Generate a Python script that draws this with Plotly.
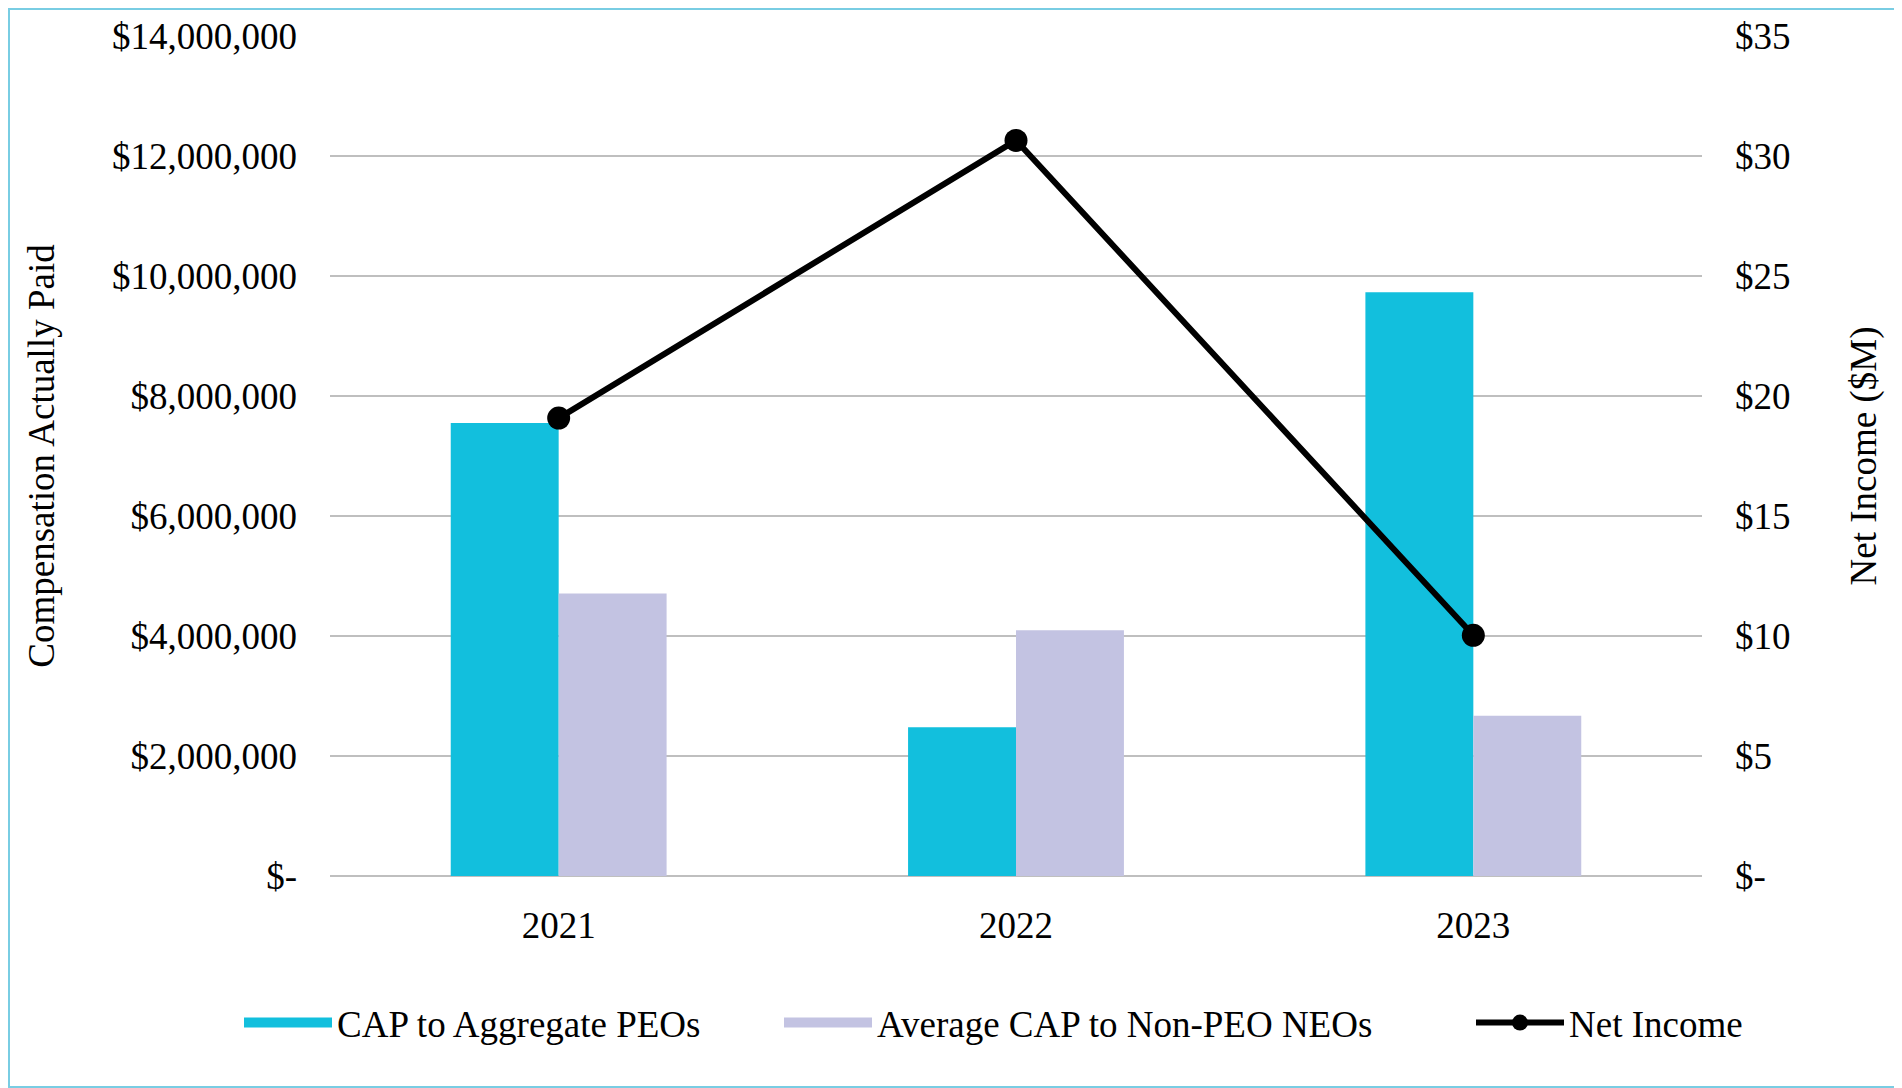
import plotly.graph_objects as go

years = ["2021", "2022", "2023"]
cap_peo = [7550000, 2480000, 9730000]
cap_neo = [4710000, 4095000, 2670000]
net_income = [19.08, 30.65, 10.03]

left_tickvals = [0, 2000000, 4000000, 6000000, 8000000, 10000000, 12000000, 14000000]
left_ticktext = ["$-", "$2,000,000", "$4,000,000", "$6,000,000", "$8,000,000",
                 "$10,000,000", "$12,000,000", "$14,000,000"]
right_tickvals = [0, 5, 10, 15, 20, 25, 30, 35]
right_ticktext = ["$-", "$5", "$10", "$15", "$20", "$25", "$30", "$35"]

# page has an 8px body margin, so the figure is sized to fit the window
W, H = 1894, 1080
L, R, T, B = 322, 200, 28, 212
PW, PH = W - L - R, H - T - B

FONT = "Liberation Serif"
CYAN = "#12BFDD"
LAV = "#C3C3E2"
GRID = "#BFBFBF"
FS = 37

fig = go.Figure()
fig.add_trace(go.Bar(x=years, y=cap_peo, name="CAP to Aggregate PEOs",
                     marker=dict(color=CYAN, line=dict(width=0)), showlegend=False))
fig.add_trace(go.Bar(x=years, y=cap_neo, name="Average CAP to Non-PEO NEOs",
                     marker=dict(color=LAV, line=dict(width=0)), showlegend=False))
fig.add_trace(go.Scatter(x=years, y=net_income, name="Net Income", yaxis="y2",
                         mode="lines+markers",
                         line=dict(color="#000000", width=6),
                         marker=dict(color="#000000", size=23),
                         legend="legend3"))
# legend swatches for the bar series (wide filled rectangles as in the reference)
fig.add_trace(go.Scatter(x=[None], y=[None], name="CAP to Aggregate PEOs",
                         mode="lines", line=dict(color=CYAN, width=17),
                         legend="legend", hoverinfo="skip"))
fig.add_trace(go.Scatter(x=[None], y=[None], name="Average CAP to Non-PEO NEOs",
                         mode="lines", line=dict(color=LAV, width=17),
                         legend="legend2", hoverinfo="skip"))

leg_y = (876 - 1023) / 840
leg_common = dict(orientation="h", xanchor="left", y=leg_y, yanchor="middle",
                  font=dict(size=FS), itemwidth=88, bgcolor="rgba(0,0,0,0)")

fig.update_layout(
    width=W, height=H,
    margin=dict(l=L, r=R, t=T, b=B, autoexpand=False),
    paper_bgcolor="white", plot_bgcolor="white",
    font=dict(family=FONT, size=FS, color="#000000"),
    barmode="group", bargap=0.528, bargroupgap=0,
    xaxis=dict(showgrid=False, showline=False, ticks="",
               tickfont=dict(size=FS), ticklabelstandoff=24),
    yaxis=dict(range=[0, 14000000], tickvals=left_tickvals, ticktext=left_ticktext,
               showgrid=True, gridcolor=GRID, gridwidth=2,
               zeroline=True, zerolinecolor=GRID, zerolinewidth=2,
               showline=False, ticks="", ticklabelstandoff=32,
               title=dict(text="Compensation Actually Paid", standoff=46,
                          font=dict(size=FS))),
    yaxis2=dict(range=[0, 35], tickvals=right_tickvals, ticktext=right_ticktext,
                overlaying="y", side="right", showgrid=False, zeroline=False,
                showline=False, ticks="", ticklabelstandoff=32,
                title=dict(text="Net Income ($M)", standoff=60,
                           font=dict(size=FS))),
    legend=dict(x=(239 - 330) / 1372, **leg_common),
    legend2=dict(x=(779 - 330) / 1372, **leg_common),
    legend3=dict(x=(1471 - 330) / 1372, **leg_common),
    showlegend=True,
)

fig.add_shape(type="rect", xref="paper", yref="paper",
              x0=(1 - L) / PW, x1=(W - 1 - L) / PW,
              y0=-(B - 1) / PH, y1=1 + (T - 1) / PH,
              line=dict(color="#79CDE3", width=2), fillcolor="rgba(0,0,0,0)",
              layer="above")

fig.write_html("out.html")
